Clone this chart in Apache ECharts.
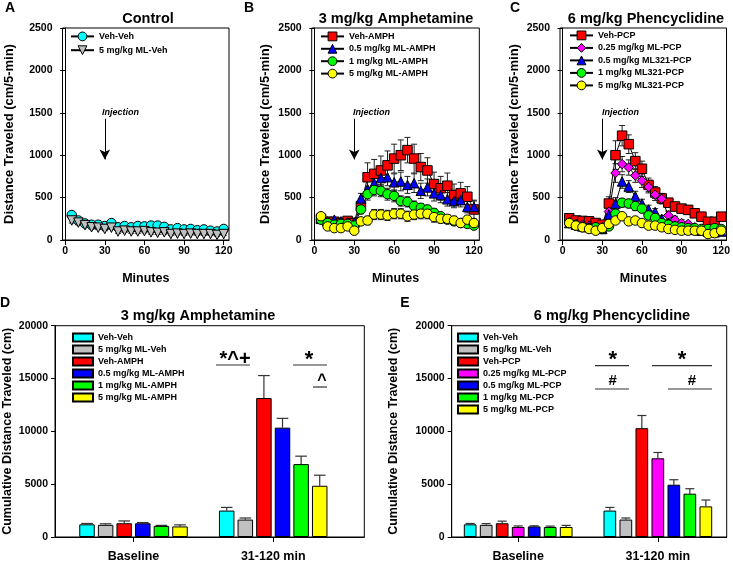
<!DOCTYPE html>
<html><head><meta charset="utf-8">
<script src="https://cdn.jsdelivr.net/npm/echarts@6/dist/echarts.min.js"></script>
<style>html,body{margin:0;padding:0;background:#fff}#c{width:733px;height:563px}</style>
</head><body><div id="c"></div>
<script>
// ---------- DATA ----------
const minutes = [5,10,15,20,25,30,35,40,45,50,55,60,65,70,75,80,85,90,95,100,105,110,115,120];
const xTicks = [0,30,60,90,120];
const injectionAt = 30;
const injectionArrow = [1430, 950];

// Panel A: Control
const aVehVeh    = [295,230,195,180,180,165,200,150,165,150,165,160,170,170,155,125,140,125,130,115,125,110,100,130];
const aVehVehErr = [30,25,20,20,20,20,25,20,25,20,25,20,25,25,20,20,20,20,20,20,20,20,20,20];
const aMLVeh     = [230,205,175,150,145,130,145,100,110,100,100,105,90,85,90,70,75,70,75,70,70,70,60,70];
const aMLVehErr  = [30,25,20,20,20,20,20,20,20,20,20,20,20,20,20,15,15,15,15,15,15,15,15,15];

// Panel B: 3 mg/kg Amphetamine
const bVehAMPH    = [250,215,215,200,225,200,400,740,780,820,880,960,1000,1060,960,860,820,660,610,640,530,550,510,360];
const bVehAMPHErr = [30,30,30,30,30,30,90,170,170,170,170,170,180,150,170,160,150,140,140,150,130,130,120,110];
const bML05       = [250,220,240,220,215,210,490,600,670,730,740,680,690,650,670,580,620,550,530,480,460,470,390,390];
const bML05Err    = [25,25,25,25,25,25,60,90,100,100,100,100,110,100,110,90,100,90,90,80,80,80,70,70];
const bML1        = [240,200,180,190,190,170,360,540,590,580,540,520,460,450,400,380,360,320,280,240,220,200,190,170];
const bML1Err     = [25,25,20,20,20,20,50,70,70,70,70,70,60,60,60,50,50,50,40,40,40,40,30,30];
const bML5        = [280,160,140,140,160,110,220,230,300,300,290,310,310,280,300,310,310,270,250,250,230,200,240,200];
const bML5Err     = [30,30,25,25,25,20,40,50,60,60,60,60,60,60,60,60,60,60,50,50,50,40,40,40];

// Panel C: 6 mg/kg Phencyclidine
const cVehPCP    = [256,230,225,220,200,180,430,1000,1230,1130,930,840,650,560,490,440,395,370,355,315,275,215,215,275];
const cVehPCPErr = [30,30,30,30,30,30,80,170,120,110,100,90,80,70,60,50,50,50,50,40,40,40,40,40];
const cML025     = [210,190,180,170,160,150,335,790,895,855,760,700,625,535,485,290,240,200,190,150,130,100,110,120];
const cML025Err  = [25,25,25,25,25,25,60,110,90,90,80,80,70,70,60,50,40,40,30,30,30,30,30,30];
const cML05      = [200,180,160,150,150,130,300,430,690,630,515,430,360,330,250,200,170,150,130,120,110,100,90,100];
const cML05Err   = [25,25,20,20,20,20,50,70,80,70,60,50,50,40,40,30,30,30,25,25,25,25,25,25];
const cML1       = [200,170,150,140,150,130,160,310,440,430,400,370,290,260,200,180,160,150,140,140,130,130,140,130];
const cML1Err    = [25,25,20,20,20,20,30,40,50,50,50,40,40,30,30,30,25,25,25,25,25,25,25,25];
const cML5       = [200,170,150,130,110,140,190,230,280,220,230,200,170,170,150,130,120,110,110,110,110,70,80,110];
const cML5Err    = [25,20,20,20,20,20,30,30,40,30,30,30,25,25,25,20,20,20,20,20,20,20,20,20];

// Panel D / E: cumulative bars
const barGroups = ['Baseline', '31-120 min'];
const dNames = ['Veh-Veh','5 mg/kg ML-Veh','Veh-AMPH','0.5 mg/kg ML-AMPH','1 mg/kg ML-AMPH','5 mg/kg ML-AMPH'];
const dBaseline    = [1200,1150,1300,1300,1050,1000];
const dBaselineErr = [80,100,220,70,50,150];
const dPost        = [2500,1650,13150,10350,6900,4850];
const dPostErr     = [300,150,2130,880,750,1000];

const eNames = ['Veh-Veh','5 mg/kg ML-Veh','Veh-PCP','0.25 mg/kg ML-PCP','0.5 mg/kg ML-PCP','1 mg/kg ML-PCP','5 mg/kg ML-PCP'];
const eBaseline    = [1200,1150,1300,950,1000,950,950];
const eBaselineErr = [80,120,200,100,60,80,150];
const ePost        = [2500,1650,10300,7450,4950,4100,2900];
const ePostErr     = [300,150,1200,550,470,470,600];

// ---------- STYLE ----------
const FF = "'Liberation Sans', Arial, sans-serif";
const C = {cyan:'#00FFFF', gray:'#C0C0C0', red:'#FF0000', blue:'#0000FF', green:'#00FF00', yellow:'#FFFF00', magenta:'#FF00FF'};
const dColors = [C.cyan, C.gray, C.red, C.blue, C.green, C.yellow];
const eColors = [C.cyan, C.gray, C.red, C.magenta, C.blue, C.green, C.yellow];

const chart = echarts.init(document.getElementById('c'), null, {renderer:'canvas'});

const grids = [
  {left:62.5, top:28, width:166.5, height:212},
  {left:311.7, top:28, width:167.6, height:212},
  {left:560, top:28, width:168.3, height:212},
  {left:54.3, top:325.7, width:310, height:212.6},
  {left:451.7, top:325.7, width:275, height:212.6}
].map(g => Object.assign({show:true, borderColor:'#000', borderWidth:1, backgroundColor:'transparent'}, g));

const lab = {color:'#000', fontFamily:FF, fontWeight:'bold', fontSize:10.5};
const plain = v => String(v);

function lineX(gi){
  return {gridIndex:gi, type:'value', min:-2, max:124,
    axisLine:{show:true, onZero:false, lineStyle:{color:'#000', width:1}},
    axisTick:{show:true, length:5, customValues:xTicks, lineStyle:{color:'#000'}},
    axisLabel:Object.assign({customValues:xTicks, margin:6, formatter:plain}, lab),
    splitLine:{show:false},
    name:'Minutes', nameLocation:'middle', nameGap:32,
    nameTextStyle:{color:'#000', fontFamily:FF, fontWeight:'bold', fontSize:12.5}};
}
function lineY(gi, gap){
  return {gridIndex:gi, type:'value', min:0, max:2500, interval:500,
    axisLine:{show:true, lineStyle:{color:'#000', width:1}},
    axisTick:{show:true, length:5, lineStyle:{color:'#000'}},
    axisLabel:Object.assign({margin:10, formatter:plain}, lab),
    splitLine:{show:false},
    name:'Distance Traveled (cm/5-min)', nameLocation:'middle', nameGap:gap, nameRotate:90,
    nameTextStyle:{color:'#000', fontFamily:FF, fontWeight:'bold', fontSize:13}};
}
function barX(gi, mn, mx){
  return {gridIndex:gi, type:'value', min:mn, max:mx,
    axisLine:{show:true, onZero:false, lineStyle:{color:'#000', width:1}},
    axisTick:{show:true, length:5, customValues:[1,2], lineStyle:{color:'#000'}},
    axisLabel:Object.assign({customValues:[1,2], margin:13, formatter:v => barGroups[Math.round(v)-1]}, lab, {fontSize:12.5}),
    splitLine:{show:false}};
}
function barY(gi, gap){
  return {gridIndex:gi, type:'value', min:0, max:20000, interval:5000,
    axisLine:{show:true, lineStyle:{color:'#000', width:1}},
    axisTick:{show:true, length:4, lineStyle:{color:'#000'}},
    axisLabel:Object.assign({margin:7, formatter:plain}, lab),
    splitLine:{show:false},
    name:'Cumulative Distance Traveled (cm)', nameLocation:'middle', nameGap:gap, nameRotate:90,
    nameTextStyle:{color:'#000', fontFamily:FF, fontWeight:'bold', fontSize:12.5}};
}

const series = [];
function lineSeries(gi, prefix, name, vals, errs, color, symbol, rot){
  series.push({type:'custom', xAxisIndex:gi, yAxisIndex:gi, z:2, silent:true,
    data: minutes.map((m,i)=>[m, vals[i], errs[i]]),
    renderItem:(p, api)=>{
      const x=api.value(0), y=api.value(1), e=api.value(2);
      const hi=api.coord([x,y+e]), lo=api.coord([x,y-e]);
      const st={stroke:'#222', lineWidth:1};
      return {type:'group', children:[
        {type:'line', shape:{x1:hi[0],y1:hi[1],x2:lo[0],y2:lo[1]}, style:st},
        {type:'line', shape:{x1:hi[0]-3,y1:hi[1],x2:hi[0]+3,y2:hi[1]}, style:st},
        {type:'line', shape:{x1:lo[0]-3,y1:lo[1],x2:lo[0]+3,y2:lo[1]}, style:st}
      ]};
    }});
  series.push({type:'line', name:prefix+'|'+name, xAxisIndex:gi, yAxisIndex:gi, z:3,
    data: minutes.map((m,i)=>[m, vals[i]]),
    symbol:symbol, symbolSize:9.5, symbolRotate:rot||0, showSymbol:true,
    itemStyle:{color:color, borderColor:'#000', borderWidth:1},
    lineStyle:{color:'#000', width:1}, emphasis:{disabled:true}});
}
function arrowSeries(gi){
  series.push({type:'line', xAxisIndex:gi, yAxisIndex:gi, data:[], silent:true,
    markLine:{silent:true, symbol:['none','arrow'], symbolSize:[8,10], label:{show:false},
      lineStyle:{color:'#000', width:1, type:'solid'},
      data:[[{coord:[injectionAt, injectionArrow[0]]},{coord:[injectionAt, injectionArrow[1]]}]]}});
}

lineSeries(0,'A','Veh-Veh', aVehVeh, aVehVehErr, C.cyan, 'circle');
lineSeries(0,'A','5 mg/kg ML-Veh', aMLVeh, aMLVehErr, C.gray, 'triangle', 180);
arrowSeries(0);

lineSeries(1,'B','Veh-AMPH', bVehAMPH, bVehAMPHErr, C.red, 'rect');
lineSeries(1,'B','0.5 mg/kg ML-AMPH', bML05, bML05Err, C.blue, 'triangle');
lineSeries(1,'B','1 mg/kg ML-AMPH', bML1, bML1Err, C.green, 'circle');
lineSeries(1,'B','5 mg/kg ML-AMPH', bML5, bML5Err, C.yellow, 'circle');
arrowSeries(1);

lineSeries(2,'C','Veh-PCP', cVehPCP, cVehPCPErr, C.red, 'rect');
lineSeries(2,'C','0.25 mg/kg ML-PCP', cML025, cML025Err, C.magenta, 'diamond');
lineSeries(2,'C','0.5 mg/kg ML321-PCP', cML05, cML05Err, C.blue, 'triangle');
lineSeries(2,'C','1 mg/kg ML321-PCP', cML1, cML1Err, C.green, 'circle');
lineSeries(2,'C','5 mg/kg ML321-PCP', cML5, cML5Err, C.yellow, 'circle');
arrowSeries(2);

function barPanel(gi, prefix, names, colors, base, baseErr, post, postErr, bw, gapPct, cap){
  const n = names.length, pitch = bw*(1+gapPct/100);
  names.forEach((nm,k)=>{
    series.push({type:'bar', name:prefix+'|'+nm, xAxisIndex:gi, yAxisIndex:gi, z:2,
      data:[[1, base[k]],[2, post[k]]], barWidth:bw, barGap:gapPct+'%',
      itemStyle:{color:colors[k], borderColor:'#000', borderWidth:1}, emphasis:{disabled:true}});
  });
  names.forEach((nm,k)=>{
    const off = (k-(n-1)/2)*pitch;
    series.push({type:'custom', xAxisIndex:gi, yAxisIndex:gi, z:1, silent:true,
      data:[[1, base[k], baseErr[k]],[2, post[k], postErr[k]]],
      renderItem:(p, api)=>{
        const x=api.value(0), y=api.value(1), e=api.value(2);
        const top=api.coord([x,y+e]), bot=api.coord([x,y]);
        const cx=top[0]+off, st={stroke:'#333', lineWidth:1.2};
        return {type:'group', children:[
          {type:'line', shape:{x1:cx,y1:top[1],x2:cx,y2:bot[1]}, style:st},
          {type:'line', shape:{x1:cx-cap,y1:top[1],x2:cx+cap,y2:top[1]}, style:st}
        ]};
      }});
  });
}
barPanel(3,'D', dNames, dColors, dBaseline, dBaselineErr, dPost, dPostErr, 15.5, 20, 5.8);
barPanel(4,'E', eNames, eColors, eBaseline, eBaselineErr, ePost, ePostErr, 12.7, 26, 4.5);

const legTxt = {color:'#000', fontFamily:FF, fontWeight:'bold', fontSize:9};
function lineLegend(prefix, names, left, top, gap){
  return {orient:'vertical', left:left, top:top, itemWidth:23, itemHeight:11, itemGap:gap,
    data:names.map(n=>prefix+'|'+n), formatter:s=>s.split('|')[1], textStyle:legTxt,
    selectedMode:false, padding:0, itemStyle:{borderColor:'#000', borderWidth:1}};
}
function barLegend(prefix, names, left, top, gap){
  return {orient:'vertical', left:left, top:top, itemWidth:20, itemHeight:8, itemGap:gap, icon:'rect',
    data:names.map(n=>prefix+'|'+n), formatter:s=>s.split('|')[1], textStyle:legTxt,
    selectedMode:false, padding:0};
}

function txt(x, y, s, size, opts){
  return Object.assign({type:'text', x:x, y:y, silent:true, style:Object.assign({text:s, fill:'#000',
    font:'bold '+size+'px '+FF, align:'center', verticalAlign:'middle', textAlign:'center', textVerticalAlign:'middle'}, opts||{})});
}
function ln(x1,y1,x2,y2){
  return {type:'line', silent:true, shape:{x1,y1,x2,y2}, style:{stroke:'#333', lineWidth:1.2}};
}
const inj = {align:'left', textAlign:'left', font:'italic bold 9px '+FF};

const option = {
  animation:false,
  backgroundColor:'#fff',
  grid:grids,
  xAxis:[lineX(0), lineX(1), lineX(2), barX(3, 0.438, 2.652), barX(4, 0.524, 2.493)],
  yAxis:[lineY(0,47), lineY(1,40), lineY(2,39), barY(3,41), barY(4,52)],
  legend:[
    lineLegend('A', ['Veh-Veh','5 mg/kg ML-Veh'], 70, 31.5, 4),
    lineLegend('B', ['Veh-AMPH','0.5 mg/kg ML-AMPH','1 mg/kg ML-AMPH','5 mg/kg ML-AMPH'], 320, 31.5, 2.6),
    lineLegend('C', ['Veh-PCP','0.25 mg/kg ML-PCP','0.5 mg/kg ML321-PCP','1 mg/kg ML321-PCP','5 mg/kg ML321-PCP'], 569, 30.5, 2.7),
    barLegend('D', dNames, 72, 332.5, 2),
    barLegend('E', eNames, 457, 332.5, 2)
  ],
  series:series,
  graphic:[
    txt(10, 8, 'A', 14), txt(249, 8, 'B', 14), txt(515, 8, 'C', 14),
    txt(5, 303, 'D', 14), txt(405, 303, 'E', 14),
    txt(148, 19, 'Control', 14.5), txt(396, 19, '3 mg/kg Amphetamine', 14.5), txt(646, 19, '6 mg/kg Phencyclidine', 14.5),
    txt(198, 316, '3 mg/kg Amphetamine', 14.5), txt(612, 316, '6 mg/kg Phencyclidine', 14.5),
    txt(102, 113, 'Injection', 9, inj), txt(353, 113, 'Injection', 9, inj), txt(602, 113, 'Injection', 9, inj),
    // D annotations
    txt(235, 359, '*^+', 20), ln(216, 365, 250, 365),
    txt(309, 360, '*', 22), ln(293, 365, 327, 365),
    txt(322, 381, '^', 16), ln(313, 387, 327, 387),
    // E annotations
    txt(612.7, 360, '*', 22), ln(595, 365.7, 629, 365.7),
    txt(612.7, 381, '#', 15), ln(595, 389, 629, 389),
    txt(682, 360, '*', 22), ln(652, 365.7, 712, 365.7),
    txt(692, 381, '#', 15), ln(668, 389, 712, 389)
  ]
};
chart.setOption(option);
</script></body></html>
